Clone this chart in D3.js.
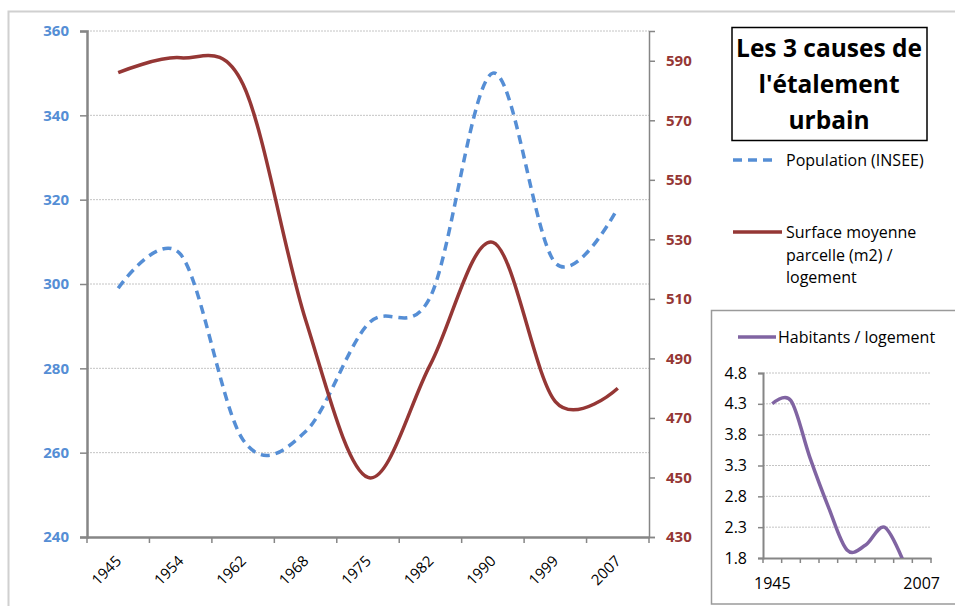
<!DOCTYPE html>
<html><head><meta charset="utf-8">
<script src="https://cdn.jsdelivr.net/npm/d3@7"></script>
<style>body{margin:0;background:#fff}svg{display:block}svg text{font-family:"Open Sans",Lato,sans-serif}</style>
</head><body><svg id="c" width="955" height="606"></svg>
<script>
const years = ["1945","1954","1962","1968","1975","1982","1990","1999","2007"];
const population = [299, 307, 263, 265, 290.5, 297, 350, 305, 318];
const surface = [586, 591, 582, 503, 450, 488, 529, 475.5, 480];
const habitants = [4.3, 4.35, 3.44, 2.63, 1.93, 2.01, 2.3, 1.76, null];
const leftTicks = [240, 260, 280, 300, 320, 340, 360];
const rightTicks = [430, 450, 470, 490, 510, 530, 550, 570, 590];
const smallTicks = [1.8, 2.3, 2.8, 3.3, 3.8, 4.3, 4.8];
const smallXLabels = ["1945", "2007"];

const svg = d3.select("#c");
const blue = "#558ED5", red = "#953735", purple = "#8064A2", axisCol = "#868686";

svg.append("rect").attr("x",8.5).attr("y",11.5).attr("width",960).attr("height",620)
  .attr("fill","none").attr("stroke","#d0d0d0").attr("stroke-width",2);

const L = 87, R = 649, T = 31, B = 537;
const x = d3.scaleBand().domain(years).range([L, R]);
const yL = d3.scaleLinear().domain([240, 360]).range([B, T]);
const yR = d3.scaleLinear().domain([430, 600]).range([B, T]);

svg.append("g").selectAll("line").data(leftTicks.filter(d=>d>240)).join("line")
  .attr("x1",L).attr("x2",R).attr("y1",d=>yL(d)).attr("y2",d=>yL(d))
  .attr("stroke","#c4c4c4").attr("stroke-width",1).attr("stroke-dasharray","2,1");

const gL = svg.append("g").attr("transform",`translate(${L},0)`)
  .call(d3.axisLeft(yL).tickValues(leftTicks).tickSize(7).tickPadding(11).tickFormat(d3.format("d")));
gL.select(".domain").attr("stroke",axisCol).attr("stroke-width",2.5);
gL.selectAll(".tick line").attr("stroke",axisCol).attr("stroke-width",1.5);
gL.selectAll("text").attr("fill",blue).attr("font-size",15).attr("font-weight","bold");

const gR = svg.append("g").attr("transform",`translate(${R},0)`)
  .call(d3.axisRight(yR).tickValues(rightTicks).tickSize(6).tickPadding(11).tickFormat(d3.format("d")));
gR.select(".domain").attr("stroke",axisCol).attr("stroke-width",1.5);
gR.selectAll(".tick line").attr("stroke",axisCol).attr("stroke-width",1.5);
gR.selectAll("text").attr("fill",red).attr("font-size",15).attr("font-weight","bold");

const gB = svg.append("g").attr("transform",`translate(0,${B})`)
  .call(d3.axisBottom(x).tickSize(0).tickFormat(""));
gB.select(".domain").attr("stroke",axisCol).attr("stroke-width",2.5);
const bounds = years.map(d=>x(d)).concat([R]);
gB.selectAll(".bt").data(bounds).join("line").attr("class","bt")
  .attr("x1",d=>d).attr("x2",d=>d).attr("y1",0).attr("y2",6).attr("stroke",axisCol).attr("stroke-width",1.5);
gB.selectAll(".bl").data(years).join("text").attr("class","bl")
  .attr("transform",d=>`translate(${x(d)+x.bandwidth()/2+4},${25}) rotate(-45)`)
  .attr("text-anchor","end").attr("font-size",15).attr("fill","#000").text(d=>d);

const cx = d => x(d) + x.bandwidth()/2;
const curve = d3.curveCatmullRom.alpha(0);
svg.append("path").datum(population).attr("fill","none").attr("stroke",blue).attr("stroke-width",3.5)
  .attr("stroke-dasharray","9,6")
  .attr("d", d3.line().x((d,i)=>cx(years[i])).y(d=>yL(d)).curve(curve));
svg.append("path").datum(surface).attr("fill","none").attr("stroke",red).attr("stroke-width",3.5)
  .attr("d", d3.line().x((d,i)=>cx(years[i])).y(d=>yR(d)).curve(curve));

svg.append("rect").attr("x",732).attr("y",27.5).attr("width",195).attr("height",113)
  .attr("fill","#fff").attr("stroke","#000").attr("stroke-width",1.5);
["Les 3 causes de","l'étalement","urbain"].forEach((t,i)=>{
  svg.append("text").attr("x",829).attr("y",57+i*36).attr("text-anchor","middle")
    .attr("font-size",24.5).attr("font-weight","bold").attr("fill","#000").text(t);
});

svg.append("line").attr("x1",733).attr("x2",776).attr("y1",160).attr("y2",160)
  .attr("stroke",blue).attr("stroke-width",3.5).attr("stroke-dasharray","9,6");
svg.append("text").attr("x",786).attr("y",166).attr("font-size",16).attr("fill","#000").text("Population (INSEE)");
svg.append("line").attr("x1",733).attr("x2",782).attr("y1",232).attr("y2",232)
  .attr("stroke",red).attr("stroke-width",3.5);
["Surface moyenne","parcelle (m2) /","logement"].forEach((t,i)=>{
  svg.append("text").attr("x",786).attr("y",238+i*22.5).attr("font-size",16).attr("fill","#000").text(t);
});

svg.append("rect").attr("x",711.5).attr("y",310.5).attr("width",260).attr("height",293.5)
  .attr("fill","#fff").attr("stroke","#9a9a9a").attr("stroke-width",1.5);
svg.append("line").attr("x1",738).attr("x2",776).attr("y1",337).attr("y2",337)
  .attr("stroke",purple).attr("stroke-width",3.5);
svg.append("text").attr("x",778).attr("y",343).attr("font-size",16).attr("fill","#000").text("Habitants / logement");

const sL = 763, sR = 931, sT = 373, sB = 558;
const xs = d3.scaleBand().domain(years).range([sL, sR]);
const ys = d3.scaleLinear().domain([1.8, 4.8]).range([sB, sT]);
svg.append("g").selectAll("line").data(smallTicks.filter(d=>d>1.8)).join("line")
  .attr("x1",sL).attr("x2",sR).attr("y1",d=>ys(d)).attr("y2",d=>ys(d))
  .attr("stroke","#c4c4c4").attr("stroke-width",1).attr("stroke-dasharray","2,1");
const gs = svg.append("g").attr("transform",`translate(${sL},0)`)
  .call(d3.axisLeft(ys).tickValues(smallTicks).tickSize(5).tickPadding(11).tickFormat(d3.format(".1f")));
gs.select(".domain").attr("stroke",axisCol).attr("stroke-width",2);
gs.selectAll(".tick line").attr("stroke",axisCol).attr("stroke-width",1.5);
gs.selectAll("text").attr("fill","#000").attr("font-size",16);
const gsb = svg.append("g").attr("transform",`translate(0,${sB})`)
  .call(d3.axisBottom(xs).tickSize(0).tickFormat(""));
gsb.select(".domain").attr("stroke",axisCol).attr("stroke-width",2);
gsb.selectAll(".bt").data(years.map(d=>xs(d)).concat([sR])).join("line").attr("class","bt")
  .attr("x1",d=>d).attr("x2",d=>d).attr("y1",0).attr("y2",5).attr("stroke",axisCol).attr("stroke-width",1.5);
gsb.selectAll(".bl").data(smallXLabels).join("text").attr("class","bl")
  .attr("x",d=>xs(d)+xs.bandwidth()/2).attr("y",31).attr("text-anchor","middle")
  .attr("font-size",16).attr("fill","#000").text(d=>d);

svg.append("clipPath").attr("id","sc").append("rect").attr("x",sL).attr("y",sT-10).attr("width",sR-sL).attr("height",sB-sT+10);
svg.append("path").datum(habitants).attr("clip-path","url(#sc)").attr("fill","none").attr("stroke",purple).attr("stroke-width",3.5)
  .attr("d", d3.line().defined(d=>d!=null).x((d,i)=>xs(years[i])+xs.bandwidth()/2).y(d=>ys(d)).curve(curve));
</script></body></html>
